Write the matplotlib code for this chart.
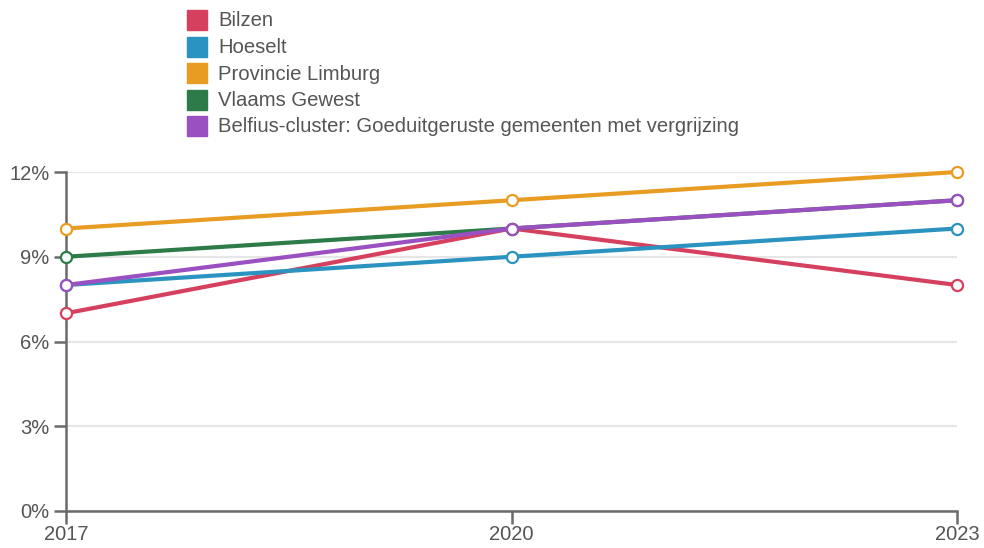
import matplotlib.pyplot as plt
from matplotlib.patches import Rectangle
from matplotlib.ticker import FuncFormatter

plt.rcParams['font.family'] = ['Liberation Sans', 'DejaVu Sans']

# data (percentages)
years = [2017, 2020, 2023]
bilzen = [7, 10, 8]
hoeselt = [8, 9, 10]
limburg = [10, 11, 12]
vlaams = [9, 10, 11]
belfius = [8, 10, 11]

names = ['Bilzen', 'Hoeselt', 'Provincie Limburg', 'Vlaams Gewest',
         'Belfius-cluster: Goeduitgeruste gemeenten met vergrijzing']
series = [bilzen, hoeselt, limburg, vlaams, belfius]
colors = ['#d6405f', '#2b93bf', '#e89c22', '#2c7b48', '#9a50c0']

W, H = 984, 548
fig = plt.figure(figsize=(W / 100, H / 100), dpi=100)
ax = fig.add_axes([66 / W, 37 / H, (957 - 66) / W, (511 - 172) / H])

for vals, c in zip(series, colors):
    ax.plot(years, vals, color=c, lw=3, marker='o', ms=8,
            mfc='white', mec=c, mew=1.6, clip_on=False, zorder=3)

ax.set_xlim(2017, 2023)
ax.set_ylim(0, 12)
ax.set_xticks(years)
ax.set_yticks([0, 3, 6, 9, 12])
ax.yaxis.set_major_formatter(FuncFormatter(lambda v, p: f'{v:.0f}%'))
ax.grid(axis='y', color='#e6e6e6', lw=1.6, zorder=0)

for s in ['top', 'right']:
    ax.spines[s].set_visible(False)
for s in ['left', 'bottom']:
    ax.spines[s].set_color('#6b6b6b')
    ax.spines[s].set_linewidth(1.8)
ax.tick_params(colors='#6b6b6b', width=1.8, length=9, labelsize=14.5,
               labelcolor='#555555')
ax.tick_params(axis='y', pad=3)
ax.tick_params(axis='x', pad=1)

# legend
for i, (n, c) in enumerate(zip(names, colors)):
    yc = 20 + i * 26.5
    fig.patches.append(Rectangle((187 / W, 1 - (yc + 10) / H), 20 / W, 20 / H,
                                 transform=fig.transFigure, color=c))
    fig.text(218 / W, 1 - (yc + 1) / H, n, fontsize=14.6, color='#555555', va='center')

fig.savefig('out.png', dpi=100)
